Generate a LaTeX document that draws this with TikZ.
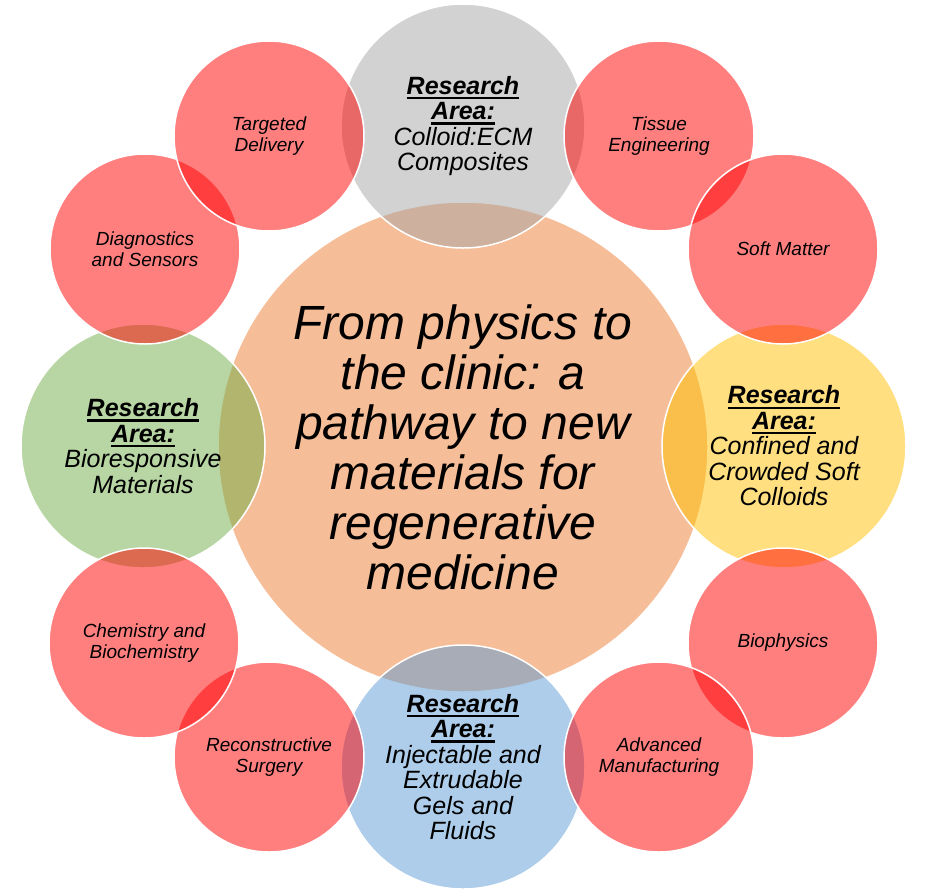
\documentclass[tikz,border=0pt]{standalone}
\usepackage{fontspec}
\setmainfont{Liberation Sans}
\newsavebox{\myulbox}
\newcommand{\myul}[1]{\sbox{\myulbox}{#1}\rlap{\rule[-5pt]{\wd\myulbox}{2.3pt}}\usebox{\myulbox}}
\definecolor{cred}{HTML}{FF0000}
\definecolor{corange}{HTML}{ED7D31}
\definecolor{cgray}{HTML}{A5A5A5}
\definecolor{cgold}{HTML}{FFC000}
\definecolor{cblue}{HTML}{5B9BD5}
\definecolor{cgreen}{HTML}{70AD47}
\newcommand{\ra}{\myul{\textbf{Research}}\\\myul{\textbf{Area:}}}
\tikzset{
  bubble/.style={circle, draw=white, line width=1.5pt, fill opacity=0.5,
    text opacity=1, draw opacity=1, inner sep=0pt, align=center, text=black},
  redbub/.style={bubble, fill=cred, minimum size=190pt,
    font=\fontsize{19}{20.5}\selectfont\itshape},
  areabub/.style={bubble, minimum size=244pt,
    font=\fontsize{25}{25.5}\selectfont\itshape},
  corebub/.style={bubble, fill=corange, minimum size=490pt,
    font=\fontsize{48}{50}\selectfont\itshape}
}
\begin{document}
\begin{tikzpicture}[x=1pt,y=-1pt]
\useasboundingbox (0,0) rectangle (931,892);
% central
\node[corebub] (core) at (463,447) {From physics to\\the clinic: a\\pathway to new\\materials for\\regenerative\\medicine};
% research areas
\node[areabub, fill=cgray] (top) at (463,126) {\ra\\Colloid:ECM\\Composites};
\node[areabub, fill=cgold] (right) at (784,446) {\ra\\Confined and\\Crowded Soft\\Colloids};
\node[areabub, fill=cblue] (bottom) at (463,767) {\ra\\Injectable and\\Extrudable\\Gels and\\Fluids};
\node[areabub, fill=cgreen] (left) at (143,446) {\ra\\Bioresponsive\\Materials};
% red topics, clockwise
\node[redbub] (tissue) at (659,136) {Tissue\\Engineering};
\node[redbub] (soft) at (783,249) {Soft Matter};
\node[redbub] (bio) at (783,643) {Biophysics};
\node[redbub] (adv) at (659,757) {Advanced\\Manufacturing};
\node[redbub] (recon) at (269,757) {Reconstructive\\Surgery};
\node[redbub] (chem) at (144,643) {Chemistry and\\Biochemistry};
\node[redbub] (diag) at (145,249) {Diagnostics\\and Sensors};
\node[redbub] (target) at (269,136) {Targeted\\Delivery};
\end{tikzpicture}
\end{document}
